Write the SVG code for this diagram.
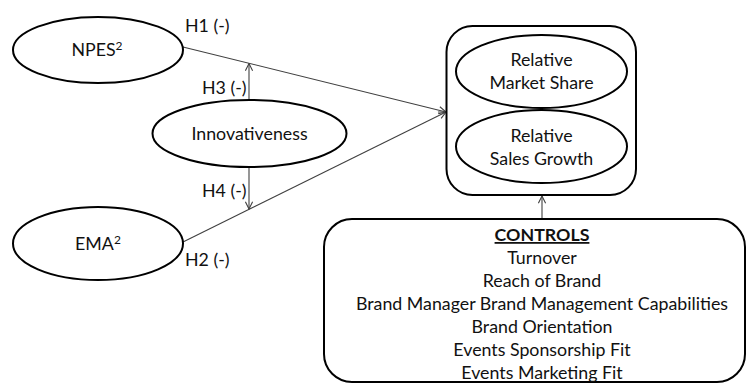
<svg xmlns="http://www.w3.org/2000/svg" width="747" height="385" viewBox="0 0 747 385">
  <style>
    text { font-family: Lato, "Liberation Sans", sans-serif; font-size: 17.8px; fill: #111111; }
    .mid { text-anchor: middle; }
    .shape { fill: #ffffff; stroke: #000000; stroke-width: 2; }
    .link { fill: none; stroke: #404040; stroke-width: 1.1; }
    .ctl { font-weight: bold; text-decoration: underline; }
  </style>
  <defs>
    <marker id="open-arrow" viewBox="0 0 10 10" refX="9" refY="5" markerWidth="9" markerHeight="9" markerUnits="userSpaceOnUse" orient="auto">
      <path d="M1,1 L9,5 L1,9" fill="none" stroke="#404040" stroke-width="1.2"/>
    </marker>
  </defs>

  <!-- connectors -->
  <g id="connectors">
    <line class="link" x1="183" y1="47" x2="446" y2="112" marker-end="url(#open-arrow)"/>
    <line class="link" x1="183" y1="242" x2="446" y2="112" marker-end="url(#open-arrow)"/>
    <line class="link" x1="249" y1="100" x2="249" y2="63.5" marker-end="url(#open-arrow)"/>
    <line class="link" x1="249" y1="167" x2="249" y2="209" marker-end="url(#open-arrow)"/>
    <line class="link" x1="542" y1="219" x2="542" y2="196" marker-end="url(#open-arrow)"/>
  </g>

  <!-- path labels -->
  <g id="labels">
    <text x="185" y="32">H1 (-)</text>
    <text x="202" y="94">H3 (-)</text>
    <text x="202" y="197">H4 (-)</text>
    <text x="185" y="266">H2 (-)</text>
  </g>

  <g id="npes">
    <ellipse class="shape" cx="98" cy="50" rx="85" ry="33"/>
    <text class="mid" x="97" y="56">NPES<tspan font-size="12" dy="-6">2</tspan></text>
  </g>

  <g id="innovativeness">
    <ellipse class="shape" cx="249.5" cy="133.5" rx="97" ry="33.5"/>
    <text class="mid" x="249.5" y="139.5">Innovativeness</text>
  </g>

  <g id="ema">
    <ellipse class="shape" cx="98" cy="243.5" rx="85" ry="36.5"/>
    <text class="mid" x="98" y="250">EMA<tspan font-size="12" dy="-6">2</tspan></text>
  </g>

  <g id="performance">
    <rect class="shape" x="446.5" y="26" width="189.5" height="169" rx="26"/>
    <g id="market-share">
      <ellipse class="shape" cx="541.5" cy="71.5" rx="85.5" ry="36.5"/>
      <text class="mid" x="541.5" y="66">Relative</text>
      <text class="mid" x="541.5" y="89">Market Share</text>
    </g>
    <g id="sales-growth">
      <ellipse class="shape" cx="541.5" cy="146.5" rx="85.5" ry="36.5"/>
      <text class="mid" x="541.5" y="141.5">Relative</text>
      <text class="mid" x="541.5" y="164.5">Sales Growth</text>
    </g>
  </g>

  <g id="controls">
    <rect class="shape" x="324" y="219" width="421" height="163" rx="28"/>
    <text class="mid ctl" x="542" y="241">CONTROLS</text>
    <text class="mid" x="542" y="264">Turnover</text>
    <text class="mid" x="542" y="287">Reach of Brand</text>
    <text class="mid" x="542" y="310">Brand Manager Brand Management Capabilities</text>
    <text class="mid" x="542" y="333">Brand Orientation</text>
    <text class="mid" x="542" y="356">Events Sponsorship Fit</text>
    <text class="mid" x="542" y="379">Events Marketing Fit</text>
  </g>
</svg>
